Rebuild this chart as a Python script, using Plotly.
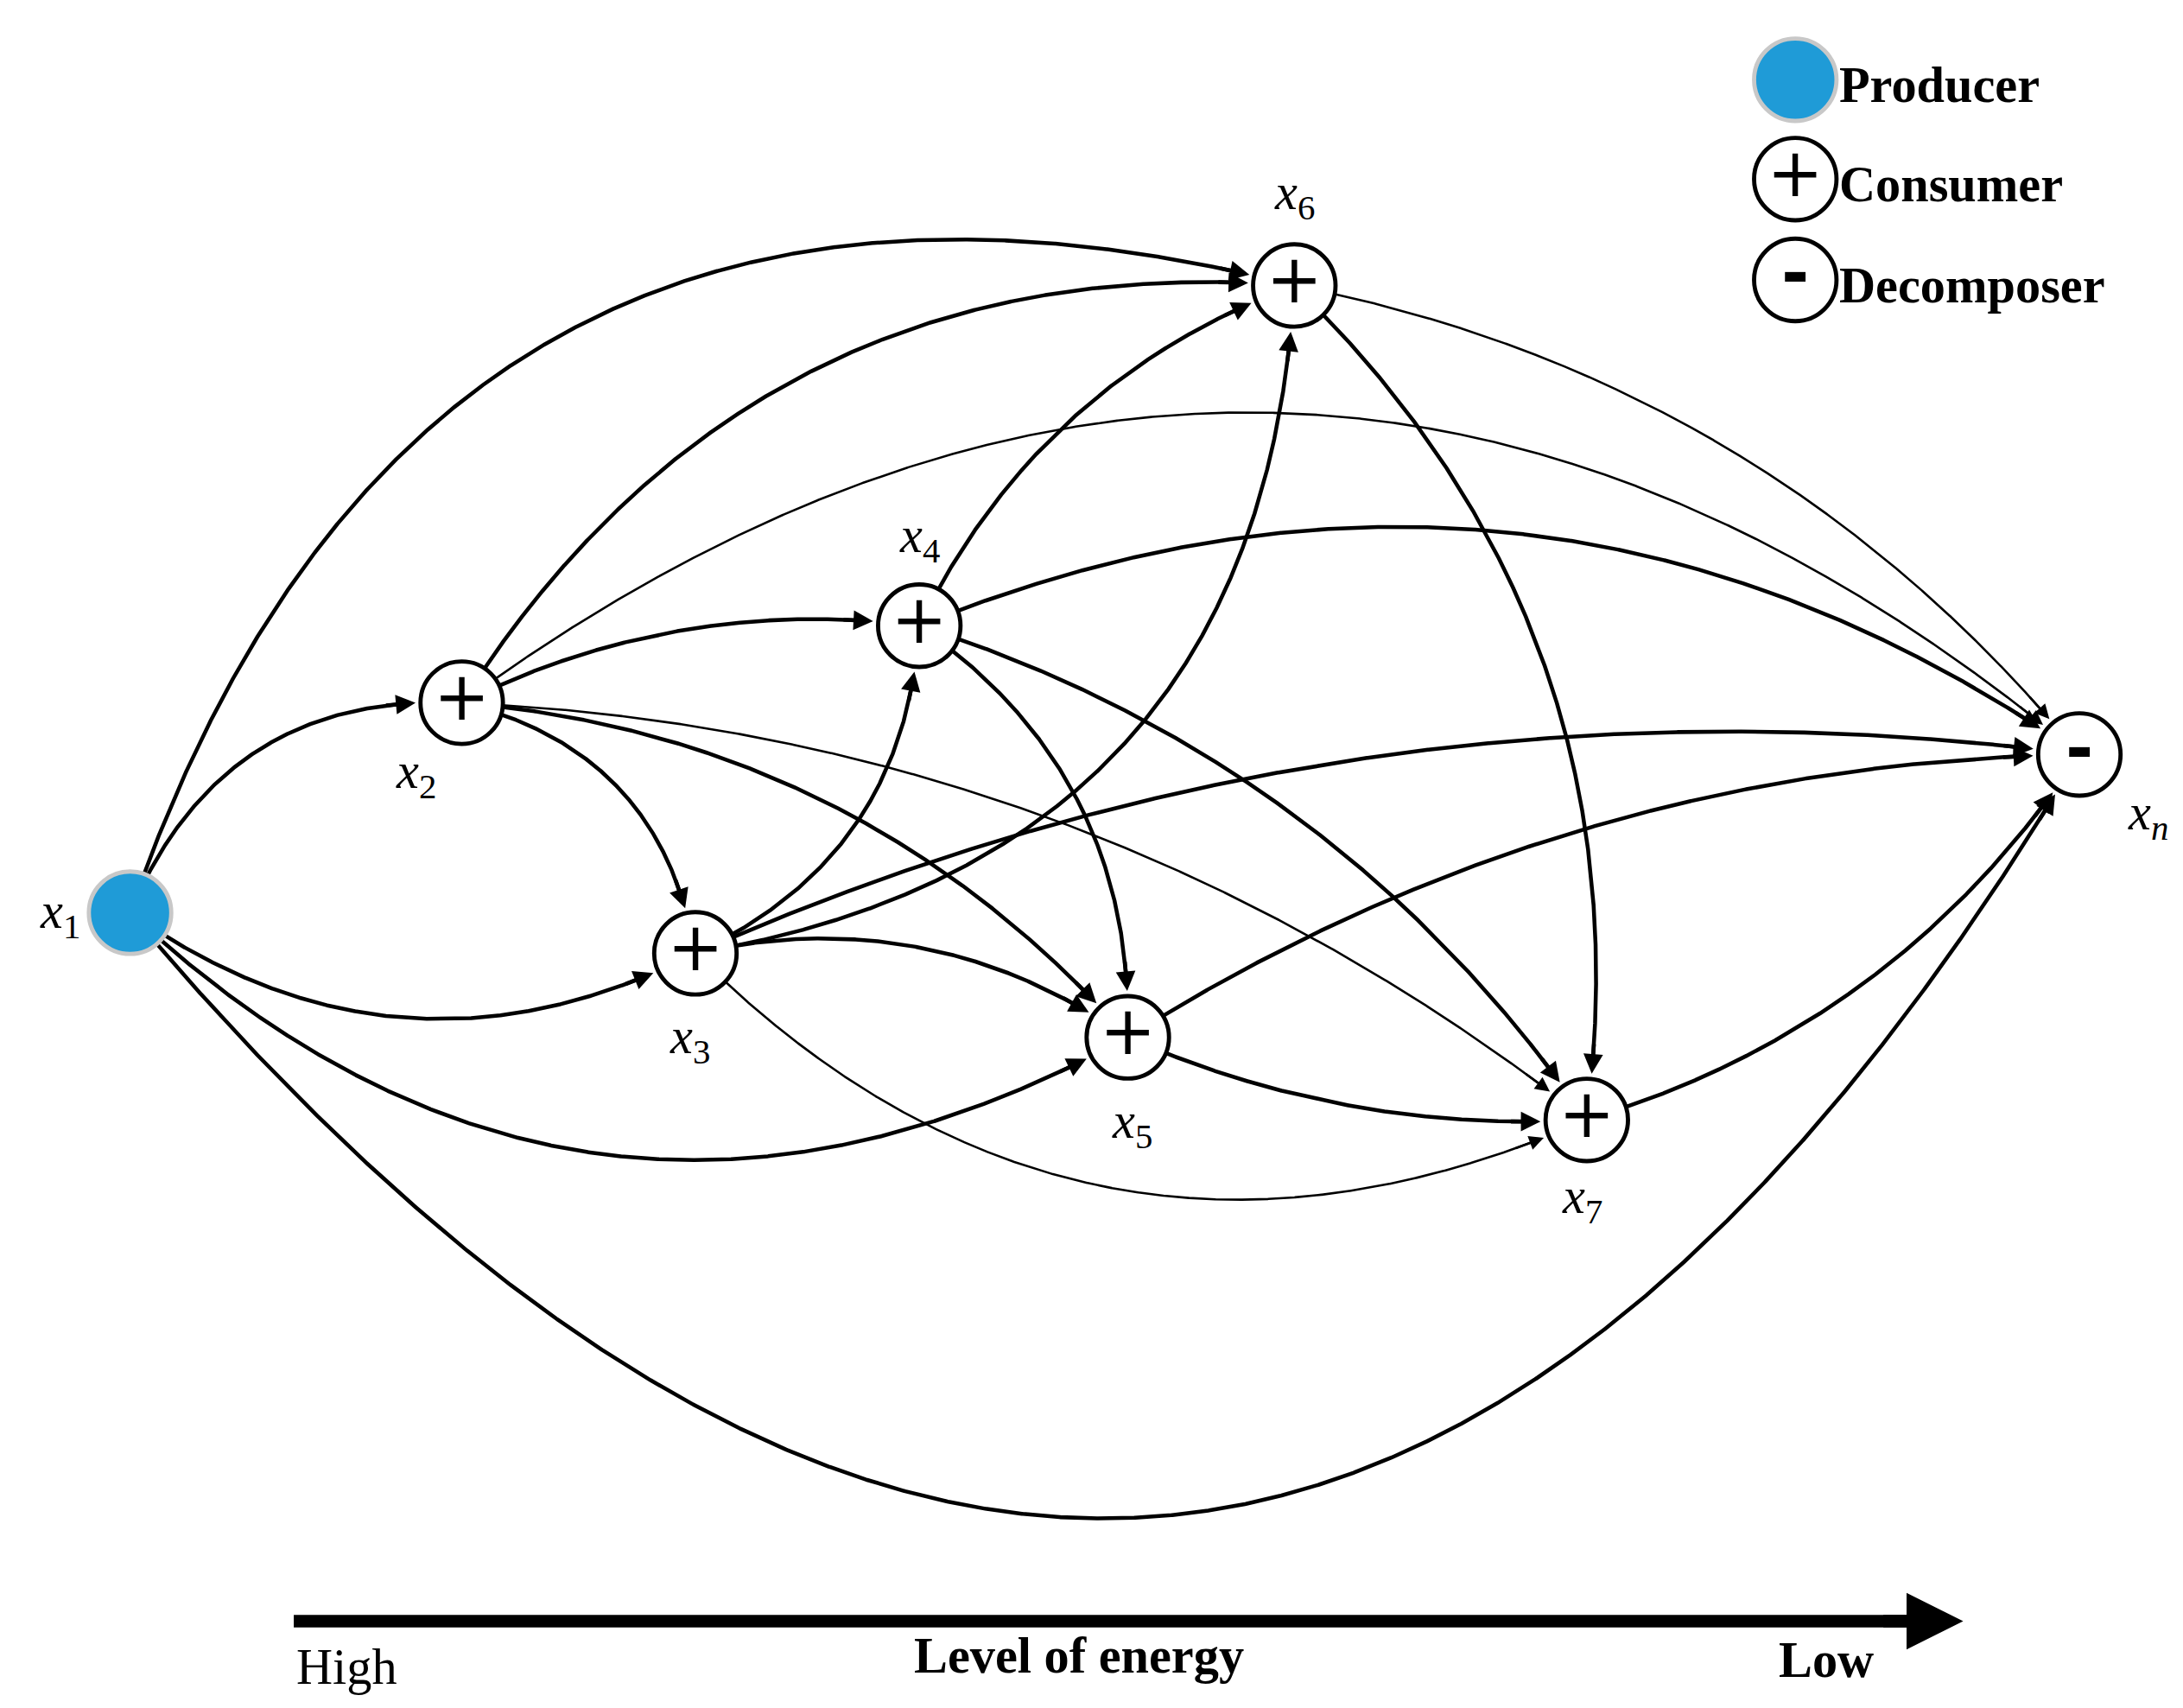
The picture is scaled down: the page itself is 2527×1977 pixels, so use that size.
import numpy as np
import plotly.graph_objects as go

W, H = 1560, 1220
S = 2527 / 1560

node_names = ["x1", "x2", "x3", "x4", "x5", "x6", "x7", "xn"]
node_x = [88, 325, 492, 652, 801, 920, 1129, 1481]
node_y = [647, 497, 676, 442, 736, 199, 795, 534]
node_sym = ["", "+", "+", "+", "+", "+", "+", "<b>-</b>"]
node_labels = ["<i>x</i><sub>1</sub>", "<i>x</i><sub>2</sub>", "<i>x</i><sub>3</sub>", "<i>x</i><sub>4</sub>",
               "<i>x</i><sub>5</sub>", "<i>x</i><sub>6</sub>", "<i>x</i><sub>7</sub>", "<i>x</i><sub><i>n</i></sub>"]
label_x = [38, 292, 488, 652, 804, 920, 1126, 1530]
label_y = [648, 548, 738, 380, 798, 135, 852, 578]

# (from, to, bend, thin)
edges = [
    (0, 1, -0.35, False), (0, 2, 0.30, False), (0, 4, 0.36, False), (0, 7, 0.70, False),
    (0, 5, -0.46, False), (1, 5, -0.30, False), (1, 3, -0.15, False), (1, 7, -0.39, True),
    (1, 2, -0.33, False), (1, 4, -0.20, False), (1, 6, -0.16, True), (2, 3, 0.30, False),
    (2, 5, 0.40, False), (2, 7, -0.14, False), (2, 4, -0.22, False), (2, 6, 0.34, True),
    (3, 5, -0.20, False), (3, 7, -0.27, False), (3, 4, -0.27, False), (3, 6, -0.17, False),
    (5, 7, -0.18, True), (5, 6, -0.25, False), (4, 7, -0.14, False), (4, 6, 0.12, False),
    (6, 7, 0.18, False),
]

R = 31
fig = go.Figure()
annotations = []
for a, b, bend, thin in edges:
    p0 = np.array([node_x[a], node_y[a]], float)
    p2 = np.array([node_x[b], node_y[b]], float)
    d = p2 - p0
    L = np.hypot(*d)
    nrm = np.array([-d[1], d[0]]) / L
    p1 = (p0 + p2) / 2 + bend * L * nrm
    t = np.linspace(0, 1, 2000)[:, None]
    pts = (1 - t) ** 2 * p0 + 2 * (1 - t) * t * p1 + t ** 2 * p2
    keep = (np.hypot(*(pts - p0).T) > R * 0.6) & (np.hypot(*(pts - p2).T) > R + 2)
    pts = pts[keep]
    tip = pts[-1]
    rev = pts[::-1]
    seg = np.concatenate([[0], np.cumsum(np.hypot(*np.diff(rev, axis=0).T))])
    tail = rev[np.searchsorted(seg, 22)]
    cut = rev[np.searchsorted(seg, 8)]
    line_pts = pts[: len(pts) - np.searchsorted(seg, 8)]
    lw = 1.6 * S if thin else 2.8 * S
    fig.add_trace(go.Scatter(x=line_pts[:, 0], y=line_pts[:, 1], mode="lines",
                             line=dict(color="black", width=lw), hoverinfo="skip", showlegend=False))
    annotations.append(dict(x=tip[0], y=tip[1], ax=tail[0], ay=tail[1], xref="x", yref="y",
                            axref="x", ayref="y", showarrow=True, arrowhead=2,
                            arrowsize=1.0 if not thin else 1.3, arrowwidth=lw, arrowcolor="black", text=""))

# nodes
colors = ["#1f9bd7"] + ["white"] * 7
borders = ["#c8c8c8"] + ["black"] * 7
fig.add_trace(go.Scatter(x=node_x, y=node_y, mode="markers+text", text=node_sym,
                         textposition="middle center",
                         textfont=dict(size=48 * S, color="black", family="DejaVu Sans"),
                         marker=dict(size=2 * R * S * 0.95, color=colors,
                                     line=dict(color=borders, width=3 * S)),
                         hoverinfo="skip", showlegend=False))
for lx, ly, lt in zip(label_x, label_y, node_labels):
    annotations.append(dict(x=lx, y=ly, text=lt, showarrow=False, xref="x", yref="y",
                            font=dict(size=36 * S, family="Liberation Serif", color="black")))

# legend
leg_names = ["Producer", "Consumer", "Decomposer"]
leg_y = [52, 123, 195]
leg_sym = ["", "+", "<b>-</b>"]
fig.add_trace(go.Scatter(x=[1278] * 3, y=leg_y, mode="markers+text", text=leg_sym,
                         textposition="middle center",
                         textfont=dict(size=48 * S, color="black", family="DejaVu Sans"),
                         marker=dict(size=2 * R * S * 0.95, color=["#1f9bd7", "white", "white"],
                                     line=dict(color=["#c8c8c8", "black", "black"], width=3 * S)),
                         hoverinfo="skip", showlegend=False))
for nm, y in zip(leg_names, leg_y):
    annotations.append(dict(x=1308, y=y + 4, text="<b>" + nm + "</b>", showarrow=False, xanchor="left",
                            xref="x", yref="y",
                            font=dict(size=36 * S, family="Liberation Serif", color="black")))

# energy arrow
fig.add_trace(go.Scatter(x=[205, 1360], y=[1153, 1153], mode="lines",
                         line=dict(color="black", width=9 * S), hoverinfo="skip", showlegend=False))
annotations.append(dict(x=1398, y=1153, ax=1340, ay=1153, xref="x", yref="y", axref="x", ayref="y",
                        showarrow=True, arrowhead=2, arrowsize=0.9, arrowwidth=9 * S,
                        arrowcolor="black", text=""))
annotations.append(dict(x=243, y=1186, text="High", showarrow=False, xref="x", yref="y",
                        font=dict(size=36 * S, family="Liberation Serif", color="black")))
annotations.append(dict(x=766, y=1178, text="<b>Level of energy</b>", showarrow=False, xref="x", yref="y",
                        font=dict(size=36 * S, family="Liberation Serif", color="black")))
annotations.append(dict(x=1300, y=1181, text="<b>Low</b>", showarrow=False, xref="x", yref="y",
                        font=dict(size=36 * S, family="Liberation Serif", color="black")))

fig.update_layout(width=2527, height=1977, margin=dict(l=0, r=0, t=0, b=0),
                  plot_bgcolor="white", paper_bgcolor="white", annotations=annotations,
                  xaxis=dict(range=[0, W], visible=False, fixedrange=True),
                  yaxis=dict(range=[H, 0], visible=False, fixedrange=True))
fig.write_html("out.html")
